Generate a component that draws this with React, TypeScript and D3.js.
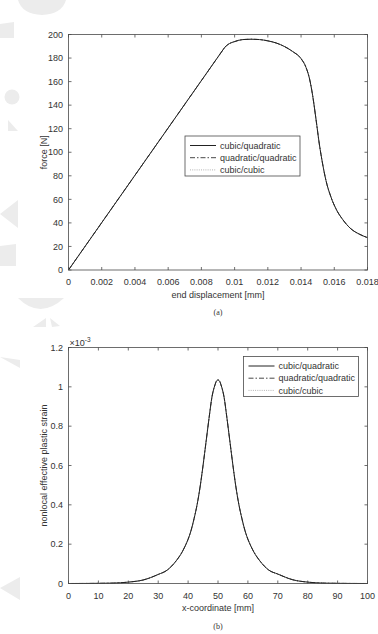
import { useEffect, useRef } from "react";
import * as d3 from "d3";

// (a) force vs end displacement
const dispMm = [0, 0.0094, 0.0096, 0.01, 0.0105, 0.011, 0.0115, 0.012, 0.0125, 0.013, 0.0135, 0.014, 0.0143, 0.0145, 0.0147, 0.0149, 0.0151, 0.0153, 0.0155, 0.0158, 0.0161, 0.0165, 0.017, 0.0175, 0.018];
const forceN = [0, 189, 191.5, 194, 195.7, 196, 195.7, 194.6, 192.8, 189.8, 185.5, 179.5, 172, 163, 148, 128, 107, 90, 76, 62, 52, 43, 35, 30.5, 27.5];
const kinkIndex = 1; // end of the linear elastic branch
const dispTicks = [0, 0.002, 0.004, 0.006, 0.008, 0.01, 0.012, 0.014, 0.016, 0.018];
const forceTicks = [0, 20, 40, 60, 80, 100, 120, 140, 160, 180, 200];

// (b) nonlocal effective plastic strain along the bar (values x 1e-3)
const coordMm = [0, 5, 10, 15, 20, 25, 30, 33, 36, 38, 39, 40, 41, 42, 43, 44, 45, 46, 47, 48, 49, 49.5, 50, 50.5, 51, 52, 53, 54, 55, 56, 57, 58, 59, 60, 61, 62, 64, 67, 70, 75, 80, 85, 90, 95, 100];
const strainE3 = [0, 0.0002, 0.0008, 0.002, 0.007, 0.018, 0.046, 0.068, 0.115, 0.16, 0.19, 0.225, 0.27, 0.33, 0.4, 0.49, 0.6, 0.72, 0.84, 0.95, 1.01, 1.03, 1.035, 1.03, 1.01, 0.95, 0.84, 0.72, 0.6, 0.49, 0.4, 0.33, 0.27, 0.225, 0.19, 0.16, 0.115, 0.068, 0.048, 0.019, 0.007, 0.002, 0.0008, 0.0002, 0];
const coordTicks = [0, 10, 20, 30, 40, 50, 60, 70, 80, 90, 100];
const strainTicks = [0, 0.2, 0.4, 0.6, 0.8, 1, 1.2];

const legendLabels = ["cubic/quadratic", "quadratic/quadratic", "cubic/cubic"];
const legendDash = [null, "5,2,1.5,2", "1,1.2"];
const legendStroke = ["#222", "#333", "#aaa"];

const FONT = "'Liberation Sans', Arial, Helvetica, sans-serif";
const AXIS = "#4a4a4a";
const TXT = "#333";

export default function App() {
  const ref = useRef<SVGSVGElement | null>(null);

  useEffect(() => {
    if (!ref.current) return;
    const svg = d3.select(ref.current);
    svg.selectAll("*").remove();

    // faint watermark shapes down the left margin
    const wm = svg.append("g").attr("fill", "#ececec");
    wm.append("path").attr("d", "M18,0 L66,0 Q62,14 42,15 Q22,14 18,0 Z");
    wm.append("path").attr("d", "M0,24 L14,22 L14,38 L0,38 Z");
    wm.append("circle").attr("cx", 12).attr("cy", 97).attr("r", 7.5);
    wm.append("path").attr("d", "M8,120 L18,131 L8,131 Z");
    wm.append("path").attr("d", "M0,214 L18,200 L18,228 Z");
    wm.append("path").attr("d", "M0,246 L16,244 L16,266 L0,266 Z");
    wm.append("path").attr("d", "M18,298 Q40,320 64,298 Z");
    wm.append("path").attr("d", "M33,327 L46,318 L46,327 Z M50,318 L60,326 L52,327 Z");
    wm.append("path").attr("d", "M0,357 L20,360 L20,368 Z");
    wm.append("path").attr("d", "M0,588 L20,577 L20,600 Z");

    type Panel = {
      xs: number[];
      ys: number[];
      xDomain: [number, number];
      yDomain: [number, number];
      xTicks: number[];
      yTicks: number[];
      left: number;
      right: number;
      top: number;
      bottom: number;
      xLabel: string;
      yLabel: string;
      caption: string;
      kink: number | null;
      legend: { x: number; y: number; w: number; h: number };
      exponent: boolean;
    };

    const panels: Panel[] = [
      {
        xs: dispMm, ys: forceN, xDomain: [0, 0.018], yDomain: [0, 200],
        xTicks: dispTicks, yTicks: forceTicks,
        left: 68.5, right: 367.5, top: 34.5, bottom: 270,
        xLabel: "end displacement [mm]", yLabel: "force [N]", caption: "(a)",
        kink: kinkIndex, legend: { x: 185, y: 136, w: 115, h: 40 }, exponent: false
      },
      {
        xs: coordMm, ys: strainE3, xDomain: [0, 100], yDomain: [0, 1.2],
        xTicks: coordTicks, yTicks: strainTicks,
        left: 68.5, right: 367.5, top: 347.5, bottom: 583.5,
        xLabel: "x-coordinate [mm]", yLabel: "nonlocal effective plastic strain", caption: "(b)",
        kink: null, legend: { x: 243.5, y: 356.5, w: 115, h: 40 }, exponent: true
      }
    ];

    const fmt = d3.format("~g");

    panels.forEach((p) => {
      const x = d3.scaleLinear().domain(p.xDomain).range([p.left, p.right]);
      const y = d3.scaleLinear().domain(p.yDomain).range([p.bottom, p.top]);
      const g = svg.append("g");
      const pts: [number, number][] = p.xs.map((v, i) => [v, p.ys[i]]);

      g.append("rect")
        .attr("x", p.left).attr("y", p.top)
        .attr("width", p.right - p.left).attr("height", p.bottom - p.top)
        .attr("fill", "#fff");

      // three overlapping solutions: dotted, dash-dot, then solid on top
      [2, 1, 0].forEach((k) => {
        const line = d3.line<[number, number]>().x((d) => x(d[0])).y((d) => y(d[1]));
        const paths: string[] = [];
        if (p.kink !== null) {
          paths.push(line.curve(d3.curveLinear)(pts.slice(0, p.kink + 1)) || "");
          paths.push(line.curve(d3.curveMonotoneX)(pts.slice(p.kink)) || "");
        } else {
          paths.push(line.curve(d3.curveMonotoneX)(pts) || "");
        }
        paths.forEach((dStr) => {
          g.append("path")
            .attr("d", dStr)
            .attr("fill", "none")
            .attr("stroke", legendStroke[k])
            .attr("stroke-width", k === 0 ? 1 : 0.9)
            .attr("stroke-dasharray", legendDash[k]);
        });
      });

      // box and inward ticks
      g.append("rect")
        .attr("x", p.left).attr("y", p.top)
        .attr("width", p.right - p.left).attr("height", p.bottom - p.top)
        .attr("fill", "none").attr("stroke", AXIS).attr("stroke-width", 0.8);
      const tl = 3;
      p.xTicks.forEach((t) => {
        g.append("line").attr("x1", x(t)).attr("x2", x(t)).attr("y1", p.bottom).attr("y2", p.bottom - tl)
          .attr("stroke", AXIS).attr("stroke-width", 0.8);
        g.append("line").attr("x1", x(t)).attr("x2", x(t)).attr("y1", p.top).attr("y2", p.top + tl)
          .attr("stroke", AXIS).attr("stroke-width", 0.8);
        g.append("text").attr("x", x(t)).attr("y", p.bottom + 15)
          .attr("text-anchor", "middle").attr("font-family", FONT).attr("font-size", 9).attr("fill", TXT)
          .text(fmt(t));
      });
      p.yTicks.forEach((t) => {
        g.append("line").attr("x1", p.left).attr("x2", p.left + tl).attr("y1", y(t)).attr("y2", y(t))
          .attr("stroke", AXIS).attr("stroke-width", 0.8);
        g.append("line").attr("x1", p.right).attr("x2", p.right - tl).attr("y1", y(t)).attr("y2", y(t))
          .attr("stroke", AXIS).attr("stroke-width", 0.8);
        g.append("text").attr("x", p.left - 5.5).attr("y", y(t) + 3.2)
          .attr("text-anchor", "end").attr("font-family", FONT).attr("font-size", 9).attr("fill", TXT)
          .text(fmt(t));
      });

      if (p.exponent) {
        const e = g.append("text").attr("x", p.left + 1).attr("y", p.top - 1.5)
          .attr("font-family", FONT).attr("font-size", 9).attr("fill", TXT);
        e.append("tspan").text("\u00d710");
        e.append("tspan").attr("font-size", 6.5).attr("dy", -4).text("-3");
      }

      const cx = (p.left + p.right) / 2;
      g.append("text").attr("x", cx).attr("y", p.bottom + 27.5)
        .attr("text-anchor", "middle").attr("font-family", FONT).attr("font-size", 9).attr("fill", TXT)
        .text(p.xLabel);
      g.append("text")
        .attr("transform", `translate(${p.left - 22},${(p.top + p.bottom) / 2}) rotate(-90)`)
        .attr("text-anchor", "middle").attr("font-family", FONT).attr("font-size", 9).attr("fill", TXT)
        .text(p.yLabel);
      g.append("text").attr("x", cx).attr("y", p.bottom + 45)
        .attr("text-anchor", "middle").attr("font-family", "'Liberation Serif', 'Times New Roman', serif")
        .attr("font-size", 8).attr("fill", TXT)
        .text(p.caption);

      // legend
      const L = p.legend;
      const lg = g.append("g");
      lg.append("rect").attr("x", L.x).attr("y", L.y).attr("width", L.w).attr("height", L.h)
        .attr("fill", "#fff").attr("stroke", AXIS).attr("stroke-width", 0.8);
      legendLabels.forEach((lab, i) => {
        const ry = L.y + 9.5 + i * 12.2;
        lg.append("line").attr("x1", L.x + 5).attr("x2", L.x + 31).attr("y1", ry).attr("y2", ry)
          .attr("stroke", legendStroke[i]).attr("stroke-width", i === 0 ? 1 : 0.9)
          .attr("stroke-dasharray", legendDash[i]);
        lg.append("text").attr("x", L.x + 35).attr("y", ry + 3.2)
          .attr("font-family", FONT).attr("font-size", 9).attr("fill", TXT)
          .text(lab);
      });
    });
  }, []);

  return (
    <svg
      ref={ref}
      width={378}
      height={634}
      style={{ position: "absolute", left: 0, top: 0, background: "#fff" }}
    />
  );
}
